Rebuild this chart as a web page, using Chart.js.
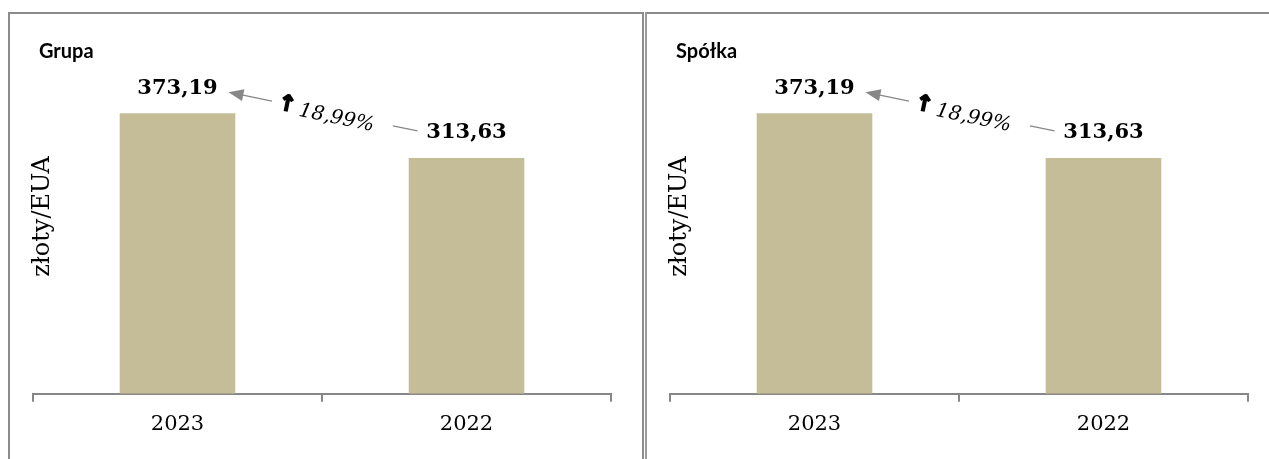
<!DOCTYPE html>
<html>
<head>
<meta charset="utf-8">
<script src="https://cdn.jsdelivr.net/npm/chart.js@4"></script>
<style>
    body { margin: 0; background: #fff; overflow: hidden; width: 1269px; height: 459px; position: relative; }
    .panel { position: absolute; top: 12px; height: 460px; border-top: 2px solid #8c8c8c; overflow: hidden; }
    #panel1 { left: 8px; width: 632px; border-left: 2px solid #8c8c8c; border-right: 2px solid #8c8c8c; }
    #panel2 { left: 645px; width: 640px; border-left: 2px solid #9a9a9a; }
    canvas { display: block; }
</style>
</head>
<body>
<div class="panel" id="panel1"><canvas id="chartGrupa" width="632" height="445"></canvas></div>
<div class="panel" id="panel2"><canvas id="chartSpolka" width="632" height="445"></canvas></div>

<script>
// dane
const lata = ["2023", "2022"];
const cenaGrupa = [373.19, 313.63];
const cenaSpolka = [373.19, 313.63];
const zmianaProc = "18,99%";
const osY = "złoty/EUA";

const kolorSlupka = "#c4bd97";
const szary = "#878787";

function liczba(v) {
    return v.toFixed(2).replace(".", ",");
}

// tytul, etykiety slupkow, strzalka ze zmiana
const dodatki = {
    id: "dodatki",
    afterDatasetsDraw(chart, args, opts) {
        const ctx = chart.ctx;
        const meta = chart.getDatasetMeta(0);
        const dane = chart.data.datasets[0].data;
        const area = chart.chartArea;

        ctx.save();
        ctx.fillStyle = "#000";

        // tytul panelu
        ctx.font = "bold 20px Lato";
        ctx.textAlign = "left";
        ctx.textBaseline = "middle";
        ctx.fillText(opts.tytul, 29, 38);

        // tytul osi Y
        ctx.save();
        ctx.translate(33, (area.top + area.bottom) / 2 - 27);
        ctx.rotate(-Math.PI / 2);
        ctx.font = "24px 'DejaVu Serif'";
        ctx.textAlign = "center";
        ctx.fillText(osY, 0, 0);
        ctx.restore();

        // wartosci nad slupkami
        const pkt = [];
        ctx.font = "bold 21px 'DejaVu Serif'";
        ctx.textAlign = "center";
        meta.data.forEach((bar, i) => {
            const y = bar.y - 25;
            ctx.fillText(liczba(dane[i]), bar.x, y);
            pkt.push({ x: bar.x, y: y });
        });

        // strzalka od 2022 do 2023
        const x0 = pkt[1].x - 49, y0 = pkt[1].y - 2;
        const x1 = pkt[0].x + 51, y1 = pkt[0].y + 4;
        const dx = x1 - x0, dy = y1 - y0;
        const kat = Math.atan2(dy, dx);
        const p = t => ({ x: x0 + dx * t, y: y0 + dy * t });

        ctx.strokeStyle = szary;
        ctx.fillStyle = szary;
        ctx.lineWidth = 1.3;
        let a = p(0), b = p(0.13);
        ctx.beginPath(); ctx.moveTo(a.x, a.y); ctx.lineTo(b.x, b.y); ctx.stroke();
        a = p(0.77); b = p(0.93);
        ctx.beginPath(); ctx.moveTo(a.x, a.y); ctx.lineTo(b.x, b.y); ctx.stroke();

        // grot
        ctx.save();
        ctx.translate(x1, y1);
        ctx.rotate(kat);
        ctx.beginPath();
        ctx.moveTo(0, 0);
        ctx.lineTo(-15, -6);
        ctx.lineTo(-15, 6);
        ctx.closePath();
        ctx.fill();
        ctx.restore();

        // tekst zmiany
        const s = p(0.47);
        ctx.save();
        ctx.translate(s.x, s.y + 4);
        ctx.rotate(kat + Math.PI);
        ctx.fillStyle = "#000";
        ctx.strokeStyle = "#000";
        ctx.textBaseline = "middle";
        ctx.textAlign = "left";
        ctx.font = "italic 20px 'DejaVu Serif'";
        const w = ctx.measureText(zmianaProc).width;
        ctx.fillText(zmianaProc, -w / 2 + 8, 0);
        ctx.font = "bold 22px 'DejaVu Sans'";
        ctx.textAlign = "right";
        ctx.lineWidth = 1.6;
        ctx.fillText("↑", -w / 2 + 4, -3);
        ctx.strokeText("↑", -w / 2 + 4, -3);
        ctx.restore();

        ctx.restore();
    }
};

function rysuj(id, tytul, wartosci) {
    const ctx = document.getElementById(id).getContext("2d");
    return new Chart(ctx, {
        type: "bar",
        data: {
            labels: lata,
            datasets: [{
                label: tytul,
                data: wartosci,
                backgroundColor: kolorSlupka,
                barPercentage: 0.4,
                categoryPercentage: 1.0
            }]
        },
        options: {
            responsive: false,
            animation: false,
            layout: { padding: { left: 23, right: 31, top: 79, bottom: 12 } },
            plugins: {
                legend: { display: false },
                tooltip: { enabled: false },
                dodatki: { tytul: tytul }
            },
            scales: {
                x: {
                    offset: true,
                    grid: {
                        offset: true,
                        drawOnChartArea: false,
                        drawTicks: true,
                        tickLength: 8,
                        color: szary,
                        lineWidth: 2
                    },
                    border: { display: true, color: szary, width: 2 },
                    ticks: {
                        color: "#000",
                        padding: 10,
                        font: { family: "'DejaVu Serif'", size: 21 }
                    }
                },
                y: {
                    display: false,
                    min: 0,
                    max: 400
                }
            }
        },
        plugins: [dodatki]
    });
}

rysuj("chartGrupa", "Grupa", cenaGrupa);
rysuj("chartSpolka", "Spółka", cenaSpolka);
</script>
</body>
</html>
